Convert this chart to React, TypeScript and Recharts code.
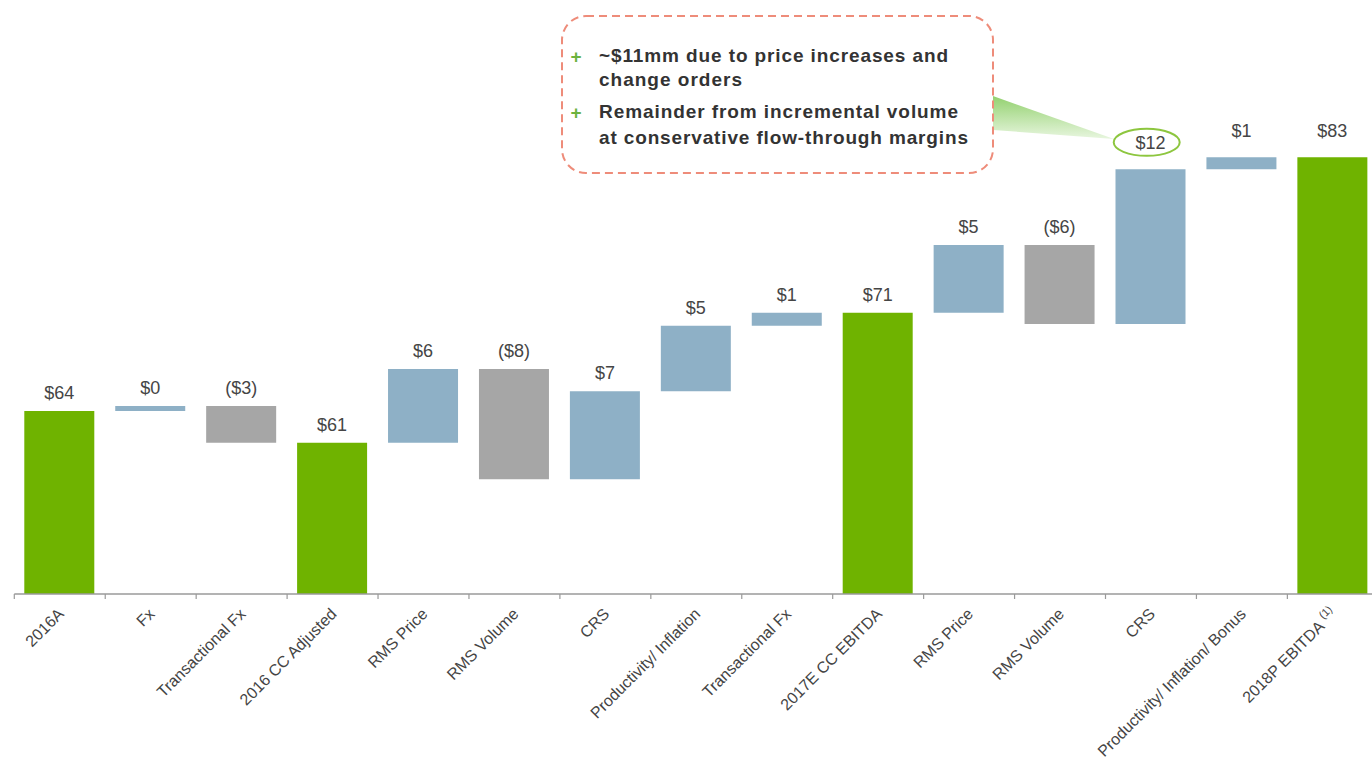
import React from 'react';
import { BarChart, Bar, Cell, XAxis, YAxis, LabelList } from 'recharts';

// categories along the axis
const categories = [
  '2016A',
  'Fx',
  'Transactional Fx',
  '2016 CC Adjusted',
  'RMS Price',
  'RMS Volume',
  'CRS',
  'Productivity/ Inflation',
  'Transactional Fx',
  '2017E CC EBITDA',
  'RMS Price',
  'RMS Volume',
  'CRS',
  'Productivity/ Inflation/ Bonus',
  '2018P EBITDA',
];
const footnotes = ['', '', '', '', '', '', '', '', '', '', '', '', '', '', '(1)'];

// bar bottoms and tops ($mm)
const barLow = [0, 63.41, 60.96, 0, 60.96, 58.13, 58.13, 64.94, 70.01, 0, 71.02, 70.14, 70.14, 82.11, 0];
const barHigh = [63.41, 63.8, 63.8, 60.96, 66.66, 66.66, 64.94, 70.01, 71.02, 71.02, 76.26, 76.26, 82.11, 83.04, 83.04];
const barKind = ['total', 'up', 'down', 'total', 'up', 'down', 'up', 'up', 'up', 'total', 'up', 'down', 'up', 'up', 'total'];
const valueLabels = ['$64', '$0', '($3)', '$61', '$6', '($8)', '$7', '$5', '$1', '$71', '$5', '($6)', '$12', '$1', '$83'];

// callout text
const calloutLines = [
  '~$11mm due to price increases and',
  'change orders',
  'Remainder from incremental volume',
  'at conservative flow-through margins',
];

const COLORS: Record<string, string> = { total: '#6fb300', up: '#8eb0c6', down: '#a6a6a6' };
const FONT = '"Liberation Sans", Arial, sans-serif';

const W = 1380;
const H = 763;
const M = { top: 132, right: 1.7, bottom: 109, left: 14.3 };
const XH = 60;
const AXIS_Y = H - M.bottom - XH;
const BAND = (W - M.left - M.right) / categories.length;

const data = categories.map((name, i) => ({
  key: `c${i}`,
  name,
  low: barLow[i],
  high: barHigh[i],
  kind: barKind[i],
}));

const AxisTick = (props: any) => {
  const { x, payload, index } = props;
  const i = payload?.index ?? index;
  const ax = x + 5;
  const ay = AXIS_Y + 21;
  return (
    <g>
      <line x1={x - BAND / 2} x2={x - BAND / 2} y1={AXIS_Y} y2={AXIS_Y + 5} stroke="#9a9a9a" strokeWidth={1.2} />
      {i === categories.length - 1 && (
        <line x1={x + BAND / 2} x2={x + BAND / 2} y1={AXIS_Y} y2={AXIS_Y + 5} stroke="#9a9a9a" strokeWidth={1.2} />
      )}
      <text
        x={ax}
        y={ay}
        transform={`rotate(-45, ${ax}, ${ay})`}
        textAnchor="end"
        fontFamily={FONT}
        fontSize={16}
        fill="#444"
      >
        {categories[i]}
        {footnotes[i] ? (
          <tspan fontSize={11} dx={4} dy={-7}>
            {footnotes[i]}
          </tspan>
        ) : null}
      </text>
    </g>
  );
};

const renderValueLabel = (props: any) => {
  const { x, y, width, height, index } = props;
  const top = Math.min(y, y + height);
  const lift = index >= 12 ? 20 : 12;
  return (
    <text
      x={x + width / 2}
      y={top - lift}
      textAnchor="middle"
      fontFamily={FONT}
      fontSize={18}
      fill="#454545"
    >
      {valueLabels[index]}
    </text>
  );
};

export default function App() {
  return (
    <div style={{ position: 'absolute', left: 0, top: 0, width: 1372, height: 763, overflow: 'hidden', background: '#fff' }}>
      <BarChart width={W} height={H} data={data} margin={M} barSize={70}>
        <XAxis
          dataKey="key"
          height={XH}
          interval={0}
          tickLine={false}
          axisLine={{ stroke: '#9a9a9a', strokeWidth: 1.5 }}
          tick={<AxisTick />}
        />
        <YAxis hide domain={[49.25, 85]} allowDataOverflow />
        <Bar dataKey={(d: any) => [d.low, d.high]} isAnimationActive={false}>
          {data.map((d, i) => (
            <Cell key={`cell-${i}`} fill={COLORS[d.kind]} />
          ))}
          <LabelList content={renderValueLabel} />
        </Bar>
      </BarChart>

      {/* callout */}
      <svg width={1372} height={763} style={{ position: 'absolute', left: 0, top: 0, pointerEvents: 'none' }}>
        <defs>
          <linearGradient id="wedge" x1="0" y1="0" x2="0" y2="1">
            <stop offset="0%" stopColor="#93d16f" />
            <stop offset="100%" stopColor="#e8f6df" />
          </linearGradient>
        </defs>
        <polygon points="993,96 993,130 1114,139" fill="url(#wedge)" />
        <rect x={562} y={16} width={431} height={157} rx={24} fill="#fff" stroke="#ee8c7a" strokeWidth={2} strokeDasharray="8 5" />
        <ellipse cx={1146.7} cy={142.3} rx={33} ry={13.5} fill="none" stroke="#8dc63f" strokeWidth={2} />
        <g fontFamily={FONT} fontWeight="bold" fontSize={19} fill="#333">
          <text x={576} y={63} textAnchor="middle" fill="#6cb33f" fontSize={19}>+</text>
          <text x={599} y={61.7} textLength={349} lengthAdjust="spacing">{calloutLines[0]}</text>
          <text x={599} y={86} textLength={143} lengthAdjust="spacing">{calloutLines[1]}</text>
          <text x={576} y={119} textAnchor="middle" fill="#6cb33f" fontSize={19}>+</text>
          <text x={599} y={118.3} textLength={359} lengthAdjust="spacing">{calloutLines[2]}</text>
          <text x={599} y={144} textLength={369} lengthAdjust="spacing">{calloutLines[3]}</text>
        </g>
      </svg>
    </div>
  );
}
